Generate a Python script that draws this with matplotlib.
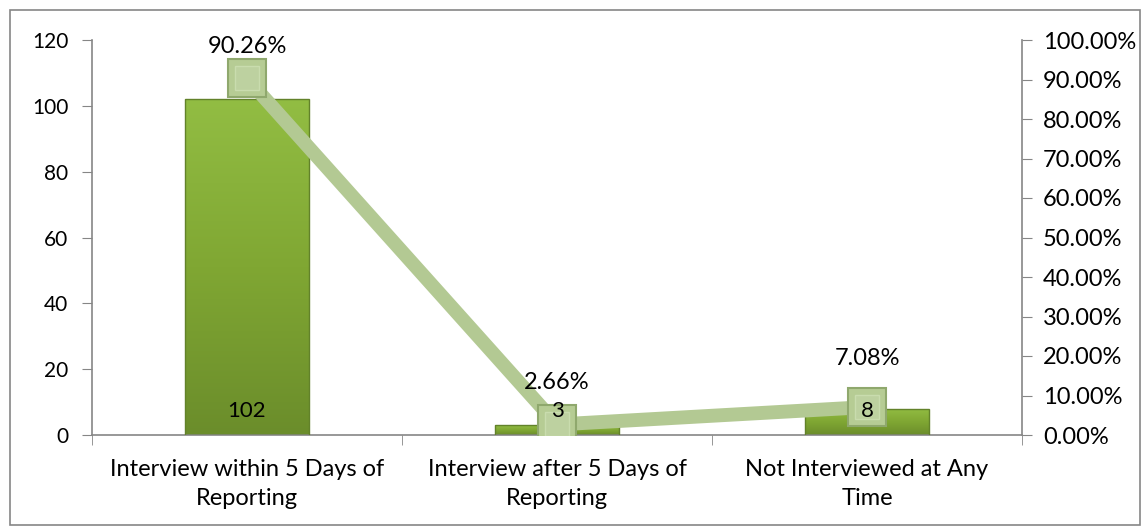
import numpy as np
import matplotlib
matplotlib.use("Agg")
import matplotlib.pyplot as plt
from matplotlib.colors import LinearSegmentedColormap
from matplotlib.patches import Rectangle

plt.rcParams['font.family'] = ['Lato', 'DejaVu Sans']

categories = ["Interview within 5 Days of\nReporting",
              "Interview after 5 Days of\nReporting",
              "Not Interviewed at Any\nTime"]
counts = [102, 3, 8]
shares = [0.9026, 0.0266, 0.0708]
share_labels = ["90.26%", "2.66%", "7.08%"]

axis_gray = "#868686"
line_green = "#b3c993"
marker_face = "#b6cc94"
marker_edge = "#8fa86d"
bar_cmap = LinearSegmentedColormap.from_list("bar", ["#6b8d2b", "#80a733", "#92bd43"])

fig = plt.figure(figsize=(11.44, 5.32), dpi=100)
fig.patches.append(Rectangle((10 / 1144, 7 / 532), 1130 / 1144, 515 / 532,
                             transform=fig.transFigure, fill=False,
                             edgecolor=axis_gray, linewidth=1.2))

ax = fig.add_axes([92 / 1144, 97 / 532, 930 / 1144, 395 / 532])
x = np.arange(len(categories))
bars = ax.bar(x, counts, width=0.4, color="none", edgecolor="#62822a", linewidth=1.0, zorder=3)
grad = np.linspace(0, 1, 256).reshape(-1, 1)
for b in bars:
    x0, y0 = b.get_x(), b.get_y()
    w, h = b.get_width(), b.get_height()
    im = ax.imshow(grad, cmap=bar_cmap, origin="lower", aspect="auto",
                   extent=[x0, x0 + w, y0, y0 + h], zorder=2)
    im.set_clip_path(b)

ax.set_xlim(-0.5, 2.5)
ax.set_ylim(0, 120)
ax.set_yticks(range(0, 121, 20))
ax.set_xticks(x)
ax.set_xticklabels(categories, fontsize=17, linespacing=1.5)
ax.set_xticks([-0.5, 0.5, 1.5, 2.5], minor=True)
ax.tick_params(axis="x", which="major", length=0, pad=17)
ax.tick_params(axis="x", which="minor", length=7, color=axis_gray)
ax.tick_params(axis="y", length=7, color=axis_gray, labelsize=15, pad=10)
for s in ["top", "right"]:
    ax.spines[s].set_visible(False)
for s in ["left", "bottom"]:
    ax.spines[s].set_color(axis_gray)
    ax.spines[s].set_linewidth(1.2)

ax2 = ax.twinx()
ax2.set_ylim(0, 1.0)
ax2.set_yticks(np.linspace(0, 1, 11))
ax2.set_yticklabels([f"{v:.2f}%" for v in np.linspace(0, 100, 11)])
ax2.tick_params(axis="y", length=7, color=axis_gray, labelsize=17, pad=8)
for s in ["top", "left", "bottom"]:
    ax2.spines[s].set_visible(False)
ax2.spines["right"].set_color(axis_gray)
ax2.spines["right"].set_linewidth(1.2)

ax2.plot(x, shares, color=line_green, linewidth=10, solid_capstyle="butt", zorder=2)
ax2.plot(x, shares, linestyle="none", marker="s", markersize=27,
         markerfacecolor=marker_face, markeredgecolor=marker_edge,
         markeredgewidth=1.5, zorder=3)
ax2.plot(x, shares, linestyle="none", marker="s", markersize=17,
         markerfacecolor="#bdd1a0", markeredgecolor="#c9dcae",
         markeredgewidth=1.0, zorder=3)

share_offsets = [32, 42, 49]
for xi, s, lab, off in zip(x, shares, share_labels, share_offsets):
    ax2.annotate(lab, (xi, s), xytext=(0, off * 0.72), textcoords="offset points",
                 ha="center", va="center", fontsize=17, zorder=5)

for xi, c in zip(x, counts):
    ax2.annotate(str(c), (xi, 0), xytext=(0, 17), textcoords="offset points",
                 ha="center", va="center", fontsize=16, zorder=5)

fig.savefig("out.png", dpi=100)
